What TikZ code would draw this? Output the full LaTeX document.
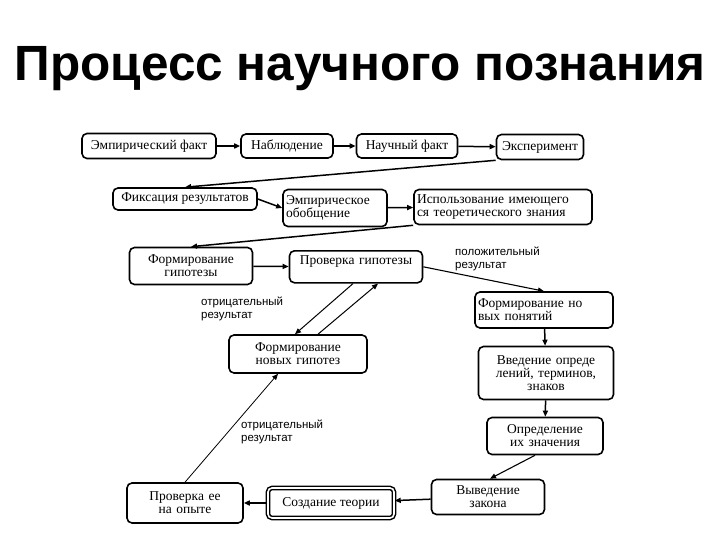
\documentclass[tikz,border=0pt]{standalone}
\usepackage{fontspec}
\setmainfont{Liberation Serif}
\setsansfont{Liberation Sans}
\usetikzlibrary{calc,arrows.meta}

\begin{document}
\begin{tikzpicture}[x=1pt,y=-1pt,
  b/.style={draw,rounded corners=5pt,line width=1.6pt,inner sep=3pt,
    font=\fontsize{13.5}{13}\selectfont},
  l/.style={anchor=north west,inner sep=0pt,align=left,
    font=\sffamily\fontsize{11.5}{12.5}\selectfont},
  ar/.style={-{Triangle[length=6pt,width=5pt]},line width=1.5pt},
  tn/.style={-{Triangle[length=6pt,width=5pt]},line width=0.8pt}]
  \useasboundingbox (0,0) rectangle (720,540);
  \node[font=\sffamily\bfseries\fontsize{49.5}{52}\selectfont] (ttl) at (360,69) {Процесс научного познания};
  % first row
  \node[b,minimum width=134,minimum height=25] (e1) at (149,146) {Эмпирический факт};
  \node[b,minimum width=92,minimum height=24] (e2) at (287,146) {Наблюдение};
  \node[b,minimum width=101,minimum height=24] (e3) at (407,146) {Научный факт};
  \node[b,minimum width=87,minimum height=25] (e4) at (540,147) {Эксперимент};
  % second row
  \node[b,minimum width=144,minimum height=22] (f1) at (185,199) {Фиксация результатов};
  \node[b,text width=98,minimum height=37,align=left] (f2) at (335,208) {Эмпирическое\\обобщение};
  \node[b,text width=172,minimum height=35,align=left] (f3) at (503,207) {Использование имеющего\\ся теоретического знания};
  % third row
  \node[b,text width=117,minimum height=37,align=center] (g1) at (191,266) {Формирование\\гипотезы};
  \node[b,text width=127,minimum height=32,align=center,anchor=north] (g2) at (356,250) {Проверка гипотезы\\[-3pt]\strut};
  \node[b,text width=132,minimum height=36,align=left] (n1) at (544,310) {Формирование но\\вых понятий};
  \node[b,text width=132,minimum height=38,align=center] (h1) at (298,354) {Формирование\\новых гипотез};
  \node[b,text width=129,minimum height=53,align=center] (n2) at (546,373) {Введение опреде\\лений, терминов,\\знаков};
  \node[b,text width=110,minimum height=37,align=center] (n3) at (545,436) {Определение\\их значения};
  % bottom row
  \node[b,text width=107,minimum height=35,align=center] (z1) at (488,497) {Выведение\\закона};
  \node[b,minimum width=126,minimum height=30,line width=1.5pt,double,double distance=1.6pt,
    rounded corners=4pt] (t1) at (331,503) {Создание теории};
  \node[b,text width=110,minimum height=40,align=center] (p1) at (185,503) {Проверка ее\\на опыте};
  % labels
  \node[l] (lp) at (455,247) {положительный\\результат};
  \node[l] (lo1) at (201,297) {отрицательный\\результат};
  \node[l] (lo2) at (241,420) {отрицательный\\результат};
  % arrows
  \draw[ar] (e1)--(e2);
  \draw[ar] (e2)--(e3);
  \draw[ar] (e3)--(e4);
  \draw[ar] (e4.south west)--(f1.north);
  \draw[ar] (f1.east)--(f2.west);
  \draw[ar] (f2)--(f3);
  \draw[ar] (f3.south west)--(g1.north);
  \draw[ar] (g1)--(g2);
  \draw[tn,line width=1.1pt] (g2.east)--(n1.north);
  \draw[tn,line width=1pt] ($(g2.south)+(-3,0)$)--($(h1.north)+(-3,0)$);
  \draw[tn,line width=1pt] ($(h1.north)+(20,0)$)--($(g2.south)+(22,0)$);
  \draw[ar] (n1)--(n2);
  \draw[ar] (n2)--(n3);
  \draw[tn,line width=1.1pt] ($(n3.south)+(-10,0)$)--($(z1.north)+(2,0)$);
  \draw[ar] (z1)--(t1);
  \draw[ar] (t1)--(p1);
  \draw[tn] (p1.north)--($(h1.south)+(-20,0)$);
\end{tikzpicture}
\end{document}
